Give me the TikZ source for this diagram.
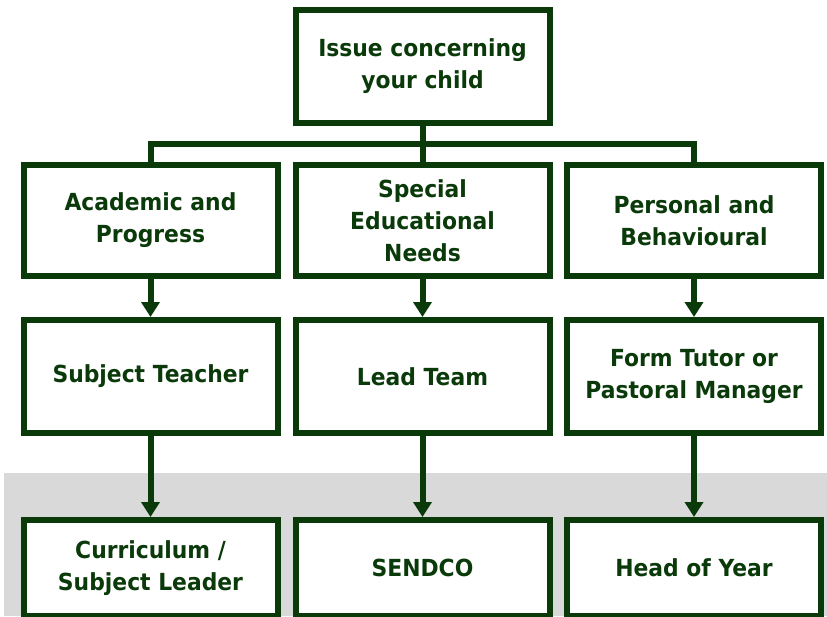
\documentclass[tikz,border=0pt]{standalone}
\usepackage{fontspec}
\setmainfont{DejaVu Sans}[FakeStretch=0.93]
\usetikzlibrary{arrows.meta}
\definecolor{dkgreen}{RGB}{10,58,10}
\definecolor{bggray}{RGB}{217,217,217}
\begin{document}
\begin{tikzpicture}[x=1pt,y=-1pt,
  box/.style={draw=dkgreen, fill=white, line width=6pt, rectangle,
    minimum width=254pt, align=center, text=dkgreen,
    font=\fontsize{23.5}{32}\selectfont\bfseries, inner sep=0pt},
  conn/.style={draw=dkgreen, line width=6pt},
  arr/.style={conn, -{Triangle[length=15pt,width=18pt]}}]
\useasboundingbox (0,0) rectangle (827,616);
\fill[bggray] (4,473) rectangle (827,616);
% top
\node[box, minimum height=113pt] (top) at (422.5,66.5) {Issue concerning\\your child};
% row 2
\node[box, minimum height=111pt] (a2) at (150.5,220.5) {Academic and\\Progress};
\node[box, minimum height=111pt] (b2) at (422.5,220.5) {Special\\Educational\\Needs};
\node[box, minimum height=111pt] (c2) at (694,220.5) {Personal and\\Behavioural};
% row 3
\node[box, minimum height=113pt] (a3) at (150.5,376.5) {Subject Teacher};
\node[box, minimum height=113pt] (b3) at (422.5,376.5) {Lead Team};
\node[box, minimum height=113pt] (c3) at (694,376.5) {Form Tutor or\\Pastoral Manager};
% row 4
\node[box, minimum height=96pt] (a4) at (150.5,568) {Curriculum /\\Subject Leader};
\node[box, minimum height=96pt] (b4) at (422.5,568) {SENDCO};
\node[box, minimum height=96pt] (c4) at (694,568) {Head of Year};
% bus
\coordinate (bus) at (422.5,143.5);
\draw[conn] (top.south) -- (bus);
\draw[conn] (a2.north) |- (bus) -| (c2.north);
\draw[conn] (bus) -- (b2.north);
% arrows
\draw[arr] (a2.south) -- (a3.north);
\draw[arr] (b2.south) -- (b3.north);
\draw[arr] (c2.south) -- (c3.north);
\draw[arr] (a3.south) -- (a4.north);
\draw[arr] (b3.south) -- (b4.north);
\draw[arr] (c3.south) -- (c4.north);
\end{tikzpicture}
\end{document}
